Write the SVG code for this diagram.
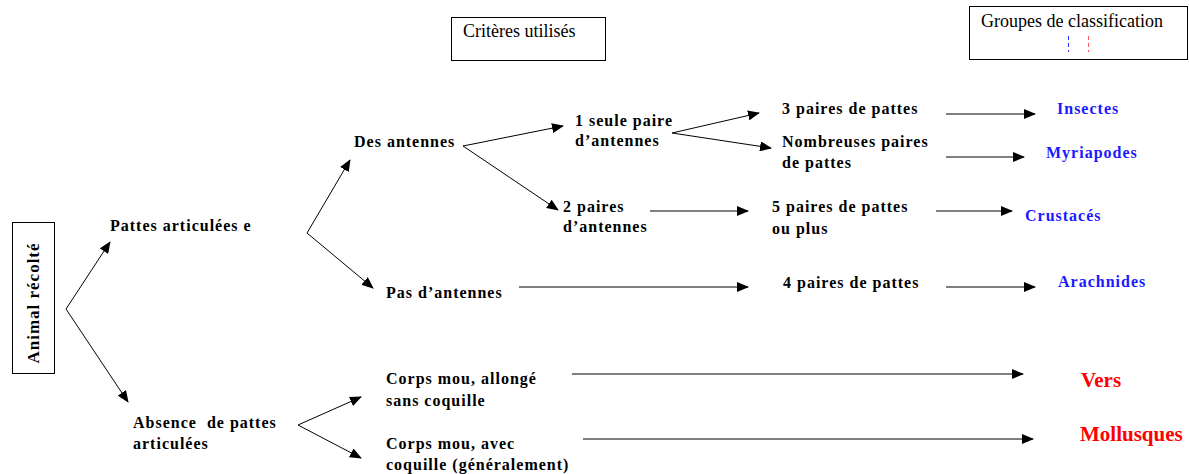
<svg xmlns="http://www.w3.org/2000/svg" width="1189" height="474" viewBox="0 0 1189 474">
<style>
.t{font-family:"Liberation Serif","Times New Roman",serif;font-size:16px;font-weight:bold;fill:#000;letter-spacing:1px}
.r{font-family:"Liberation Serif","Times New Roman",serif;font-size:18px;fill:#000}
.b{font-family:"Liberation Serif","Times New Roman",serif;font-size:16px;font-weight:bold;fill:#1a1aff;letter-spacing:1px}
.red{font-family:"Liberation Serif","Times New Roman",serif;font-size:21px;font-weight:bold;fill:#ff0000}
.box{fill:#fff;stroke:#000;stroke-width:1}
.c{stroke:#000;stroke-width:1;fill:none;marker-end:url(#ah)}
</style>
<defs>
<marker id="ah" markerWidth="12" markerHeight="10" refX="11" refY="5" orient="auto" markerUnits="userSpaceOnUse">
<path d="M0,0 L12,5 L0,10 Z" fill="#000"/>
</marker>
</defs>
<rect width="1189" height="474" fill="#fff"/>
<g id="criteres">
<rect class="box" x="451.5" y="17.5" width="154" height="43"/>
<text class="r" x="463" y="37">Critères utilisés</text>
</g>
<g id="groupes">
<rect class="box" x="969.5" y="6.5" width="218" height="53"/>
<text class="r" x="981" y="27">Groupes de classification</text>
<line x1="1068.5" y1="36" x2="1068.5" y2="52" stroke="#3333ff" stroke-dasharray="4,3"/>
<line x1="1088.5" y1="36" x2="1088.5" y2="52" stroke="#ff5555" stroke-dasharray="4,3"/>
</g>
<g id="animal">
<rect class="box" x="12.5" y="222.5" width="42" height="151"/>
<text class="t" x="0" y="0" text-anchor="middle" style="font-size:17px" transform="translate(39,303) rotate(-90)">Animal récolté</text>
</g>
<g id="pattes"><text class="t" x="110" y="231">Pattes articulées e</text></g>
<g id="absence"><text class="t" x="133" y="428">Absence&#160; de pattes</text><text class="t" x="133" y="449">articulées</text></g>
<g id="des-antennes"><text class="t" x="354" y="147">Des antennes</text></g>
<g id="pas-antennes"><text class="t" x="386" y="298">Pas d’antennes</text></g>
<g id="une-paire"><text class="t" x="575" y="126">1 seule paire</text><text class="t" x="575" y="146">d’antennes</text></g>
<g id="deux-paires"><text class="t" x="563" y="212">2 paires</text><text class="t" x="563" y="232">d’antennes</text></g>
<g id="trois-paires"><text class="t" x="782" y="114">3 paires de pattes</text></g>
<g id="nombreuses"><text class="t" x="782" y="147">Nombreuses paires</text><text class="t" x="782" y="168">de pattes</text></g>
<g id="cinq-paires"><text class="t" x="772" y="212">5 paires de pattes</text><text class="t" x="772" y="234">ou plus</text></g>
<g id="quatre-paires"><text class="t" x="783" y="288">4 paires de pattes</text></g>
<g id="corps-allonge"><text class="t" x="386" y="384">Corps mou, allongé</text><text class="t" x="386" y="406">sans coquille</text></g>
<g id="corps-coquille"><text class="t" x="386" y="449">Corps mou, avec</text><text class="t" x="386" y="470">coquille (généralement)</text></g>
<g id="insectes"><text class="b" x="1057" y="114">Insectes</text></g>
<g id="myriapodes"><text class="b" x="1046" y="158">Myriapodes</text></g>
<g id="crustaces"><text class="b" x="1025" y="221">Crustacés</text></g>
<g id="arachnides"><text class="b" x="1058" y="287">Arachnides</text></g>
<g id="vers"><text class="red" x="1081" y="387">Vers</text></g>
<g id="mollusques"><text class="red" x="1080" y="441">Mollusques</text></g>
<g id="connectors">
<polyline class="c" points="66,309 110,242"/>
<polyline class="c" points="66,309 128,402"/>
<polyline class="c" points="307,233 350,160"/>
<polyline class="c" points="307,233 373,288"/>
<polyline class="c" points="463,146 563,126"/>
<polyline class="c" points="463,146 558,210"/>
<polyline class="c" points="672,133 759,113"/>
<polyline class="c" points="672,133 771,148"/>
<polyline class="c" points="946,114 1035,114"/>
<polyline class="c" points="946,157 1024,157"/>
<polyline class="c" points="650,211 748,211"/>
<polyline class="c" points="936,211 1012,211"/>
<polyline class="c" points="519,287 748,287"/>
<polyline class="c" points="946,287 1035,287"/>
<polyline class="c" points="572,374 1023,374"/>
<polyline class="c" points="583,439 1033,439"/>
<polyline class="c" points="298,425 361,397"/>
<polyline class="c" points="298,425 361,458"/>
</g>
</svg>
